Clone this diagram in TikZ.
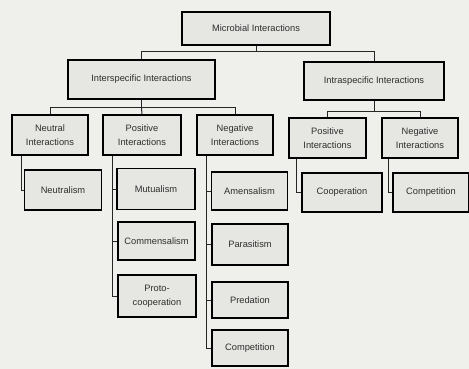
\documentclass[tikz,border=0pt]{standalone}
\usepackage{fontspec}
\setmainfont{Liberation Sans}
\usepackage{tikz}
\usetikzlibrary{positioning, calc}
\definecolor{paper}{HTML}{EFEFEC}
\definecolor{boxfill}{HTML}{E6E6E3}
\definecolor{inkgray}{HTML}{2E2E2E}

\begin{document}
\begin{tikzpicture}[x=1pt, y=-1pt,
  box/.style={draw=black, line width=1.2pt, fill=boxfill, text=inkgray,
    inner sep=1pt, align=center, font=\fontsize{9.3}{14}\selectfont},
  conn/.style={draw=black!85, line width=1pt}]
% Background
\fill[paper] (0,0) rectangle (469,369);
\useasboundingbox (0,0) rectangle (469,369);
% Top and second level
\node[box, minimum width=148pt, minimum height=33pt] (micro) at (256,28.5) {Microbial Interactions};
\node[box, minimum width=147pt, minimum height=39pt] (inter) at (141.5,79.5) {Interspecific Interactions};
\node[box, minimum width=140pt, minimum height=38pt] (intra) at (374,81) {Intraspecific Interactions};
% Third level
\node[box, minimum width=76pt, minimum height=40pt] (neut) at (50,135) {Neutral\\Interactions};
\node[box, minimum width=78pt, minimum height=40pt] (pos) at (142,135) {Positive\\Interactions};
\node[box, minimum width=76pt, minimum height=40pt] (neg) at (235,135) {Negative\\Interactions};
\node[box, minimum width=77pt, minimum height=40pt] (rpos) at (327.5,138) {Positive\\Interactions};
\node[box, minimum width=76pt, minimum height=40pt] (rneg) at (420,138) {Negative\\Interactions};
% Fourth level
\node[box, minimum width=77pt, minimum height=40pt] (neutm) at (63,190) {Neutralism};
\node[box, minimum width=78pt, minimum height=41pt] (mutu) at (156,189) {Mutualism};
\node[box, minimum width=77pt, minimum height=38pt] (comm) at (156.5,241) {Commensalism};
\node[box, minimum width=78pt, minimum height=42pt] (proto) at (157,296) {Proto-\\cooperation};
\node[box, minimum width=76pt, minimum height=38pt] (amen) at (249.5,191) {Amensalism};
\node[box, minimum width=76pt, minimum height=41pt] (para) at (250,244.5) {Parasitism};
\node[box, minimum width=76pt, minimum height=36pt] (pred) at (250,300) {Predation};
\node[box, minimum width=76pt, minimum height=36pt] (comp) at (250,348) {Competition};
\node[box, minimum width=80pt, minimum height=39pt] (coop) at (342,192.5) {Cooperation};
\node[box, minimum width=76pt, minimum height=39pt] (rcomp) at (431,192.5) {Competition};
% Branch points
\coordinate (j0) at (256,52);
\coordinate (j1) at (141.5,108);
\coordinate (j2) at (374,112);
% Connectors
\draw[conn] (micro.south) -- (j0) -| (inter.north);
\draw[conn] (j0) -| (intra.north);
\draw[conn] (inter.south) -- (j1) -| (neut.north);
\draw[conn] (j1) -- (pos.north);
\draw[conn] (j1) -| (neg.north);
\draw[conn] (intra.south) -- (j2) -| (rpos.north);
\draw[conn] (j2) -| (rneg.north);
\draw[conn] ([xshift=10pt]neut.south west) |- (neutm.west);
\draw[conn] ([xshift=10pt]pos.south west) |- (proto.west);
\draw[conn] ([xshift=10pt]pos.south west) |- (mutu.west);
\draw[conn] ([xshift=10pt]pos.south west) |- (comm.west);
\draw[conn] ([xshift=10pt]neg.south west) |- (comp.west);
\draw[conn] ([xshift=10pt]neg.south west) |- (amen.west);
\draw[conn] ([xshift=10pt]neg.south west) |- (para.west);
\draw[conn] ([xshift=10pt]neg.south west) |- (pred.west);
\draw[conn] ([xshift=8pt]rpos.south west) |- (coop.west);
\draw[conn] ([xshift=7pt]rneg.south west) |- (rcomp.west);
\end{tikzpicture}
\end{document}
